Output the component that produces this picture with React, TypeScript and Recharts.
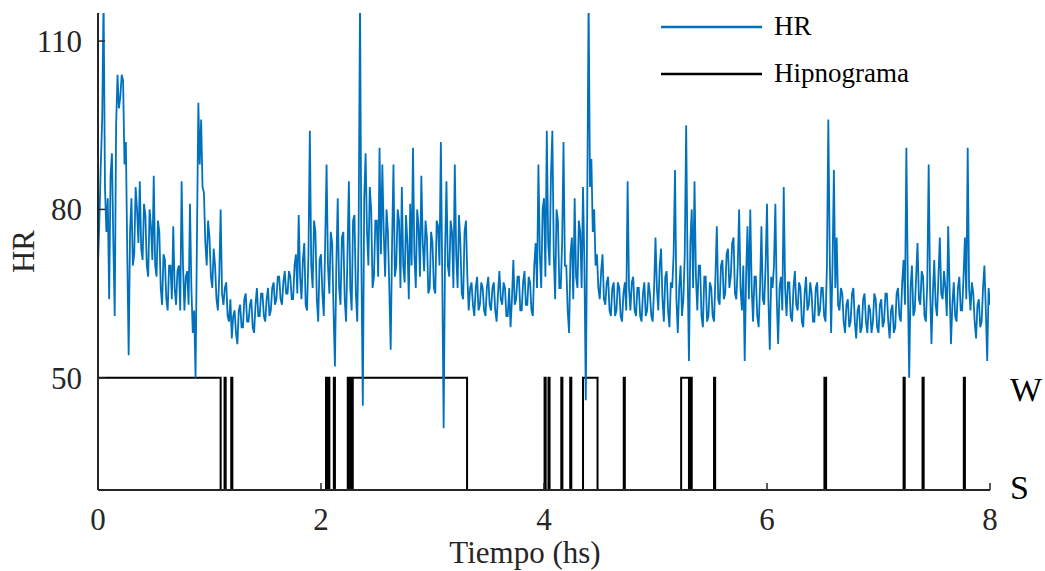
import { LineChart, Line, XAxis, YAxis, Label } from 'recharts';

const HR_STEP = 0.0125;

const hrHours0to2 = [
  70, 78, 88, 96, 118, 84, 76, 82, 64, 86, 90, 74, 61, 95, 104, 98, 100, 104, 103, 88,
  92, 72, 54, 76, 82, 70, 72, 84, 80, 74, 85, 73, 71, 81, 79, 70, 68, 80, 77, 71,
  86, 70, 68, 78, 76, 66, 63, 72, 71, 64, 62, 70, 70, 64, 77, 66, 63, 69, 70, 62,
  85, 70, 62, 68, 69, 63, 81, 66, 58, 62, 50, 75, 99, 88, 96, 84, 83, 74, 70, 78,
  75, 68, 66, 73, 70, 64, 62, 68, 80, 65, 63, 66, 67, 61, 60, 64, 57, 61, 62, 58,
  56, 62, 63, 59, 59, 64, 65, 60, 60, 63, 64, 59, 58, 63, 66, 61, 61, 65, 65, 61,
  60, 64, 66, 61, 62, 66, 67, 63, 64, 68, 68, 64, 63, 67, 69, 65, 65, 69, 68, 64,
  64, 70, 72, 65, 79, 68, 64, 71, 74, 63, 62, 72, 94, 70, 66, 78, 76, 64, 60, 71,
];

const hrHours2to4 = [
  72, 65, 61, 74, 88, 70, 65, 76, 74, 62, 52, 70, 82, 66, 63, 75, 76, 64, 60, 72,
  85, 66, 62, 78, 79, 65, 60, 76, 118, 70, 45, 82, 90, 76, 70, 84, 80, 66, 68, 78,
  78, 68, 91, 72, 88, 76, 68, 80, 76, 66, 55, 74, 88, 68, 70, 80, 78, 66, 84, 70,
  67, 79, 74, 64, 81, 70, 91, 72, 66, 80, 77, 68, 86, 74, 69, 78, 75, 65, 66, 76,
  74, 66, 65, 78, 77, 70, 92, 68, 41, 72, 85, 70, 68, 78, 76, 66, 88, 72, 66, 79,
  74, 65, 64, 76, 78, 68, 62, 66, 67, 63, 61, 66, 68, 62, 63, 67, 66, 62, 61, 66,
  68, 63, 62, 66, 67, 62, 60, 65, 69, 64, 63, 67, 66, 61, 61, 66, 59, 64, 71, 63,
  64, 68, 68, 62, 62, 67, 69, 63, 63, 68, 67, 62, 61, 70, 74, 66, 88, 72, 66, 80,
];

const hrHours4to6 = [
  82, 68, 94, 74, 70, 86, 94, 72, 64, 80, 78, 66, 66, 74, 92, 70, 70, 62, 58, 72,
  75, 64, 82, 68, 66, 78, 76, 66, 84, 70, 46, 80, 118, 84, 89, 76, 80, 70, 72, 66,
  64, 69, 72, 64, 63, 67, 68, 62, 61, 66, 67, 61, 62, 67, 66, 61, 60, 65, 67, 62,
  85, 66, 62, 67, 68, 62, 61, 66, 66, 61, 60, 65, 67, 61, 62, 67, 65, 61, 60, 66,
  75, 66, 62, 70, 73, 64, 60, 68, 69, 62, 59, 67, 66, 72, 87, 64, 58, 66, 70, 61,
  64, 72, 95, 70, 53, 74, 80, 66, 85, 68, 62, 70, 70, 61, 59, 68, 68, 60, 61, 67,
  66, 61, 60, 68, 77, 64, 63, 70, 71, 64, 65, 72, 73, 66, 68, 74, 75, 65, 64, 70,
  80, 66, 62, 70, 53, 68, 77, 64, 80, 66, 60, 68, 68, 61, 59, 66, 77, 64, 63, 70,
];

const hrHours6to8 = [
  81, 64, 55, 68, 66, 70, 81, 64, 56, 66, 68, 62, 84, 66, 61, 67, 67, 61, 60, 66,
  69, 63, 62, 67, 66, 60, 59, 65, 68, 62, 63, 67, 65, 60, 60, 66, 67, 61, 62, 66,
  66, 61, 60, 70, 96, 72, 58, 70, 87, 66, 75, 63, 62, 66, 65, 60, 58, 63, 64, 59,
  60, 65, 66, 60, 57, 62, 63, 58, 59, 64, 65, 60, 58, 63, 62, 58, 60, 65, 64, 59,
  58, 63, 64, 59, 60, 65, 65, 60, 57, 62, 63, 58, 59, 65, 66, 61, 60, 67, 71, 63,
  91, 68, 50, 66, 70, 61, 62, 68, 74, 64, 63, 69, 68, 61, 60, 67, 88, 66, 56, 65,
  71, 63, 61, 68, 75, 65, 64, 69, 66, 61, 77, 66, 56, 63, 67, 61, 60, 66, 68, 62,
  62, 68, 75, 64, 91, 66, 62, 67, 65, 60, 57, 63, 64, 59, 60, 66, 70, 62, 53, 66, 63,
];

// hypnogram: stage changes (hours) and the stage that starts there
const hypnoTimes = [
  0, 1.1, 1.135, 1.145, 1.195, 1.205, 2.045, 2.055, 2.065, 2.075, 2.115, 2.125,
  2.24, 2.25, 2.26, 2.27, 2.285, 3.31, 4.005, 4.015, 4.04, 4.05, 4.155, 4.165,
  4.235, 4.245, 4.35, 4.48, 4.715, 4.725, 5.23, 5.3, 5.315, 5.325, 5.525, 5.535,
  6.515, 6.53, 7.225, 7.235, 7.395, 7.405, 7.765, 7.775, 8,
];
const hypnoStages = [
  'W', 'S', 'W', 'S', 'W', 'S', 'W', 'S', 'W', 'S', 'W', 'S',
  'W', 'S', 'W', 'S', 'W', 'S', 'W', 'S', 'W', 'S', 'W', 'S',
  'W', 'S', 'W', 'S', 'W', 'S', 'W', 'S', 'W', 'S', 'W', 'S',
  'W', 'S', 'W', 'S', 'W', 'S', 'W', 'S', 'S',
];
const STAGE_LEVEL: Record<string, number> = { W: 50, S: 30 };

const xTicks = [0, 2, 4, 6, 8];
const hrTicks = [50, 80, 110];
const stageTicks = [30, 50];

const legendItems = [
  { name: 'HR', color: '#0072BD' },
  { name: 'Hipnograma', color: '#000' },
];

const hrValues = [...hrHours0to2, ...hrHours2to4, ...hrHours4to6, ...hrHours6to8];
const hrData = hrValues.map((v, i) => ({ t: i * HR_STEP, hr: v }));
const hypnoData = hypnoTimes.map((t, i) => ({ t, stage: STAGE_LEVEL[hypnoStages[i]] }));

const FONT = '"Liberation Serif", "DejaVu Serif", serif';
const AXIS = '#262626';
const BLUE = '#0072BD';

const StageTick = (props: any) => {
  const { x, y, payload } = props;
  const isWake = payload.value === 50;
  return (
    <text
      x={x}
      y={y}
      dy={isWake ? 23 : 9}
      textAnchor="start"
      fontFamily={FONT}
      fontSize={34}
      fill="#000"
    >
      {isWake ? 'W' : 'S'}
    </text>
  );
};

// legend drawn as an overlay so it doesn't steal plot height
const LegendBox = () => (
  <div
    style={{
      position: 'absolute',
      left: 661,
      top: 3,
      fontFamily: FONT,
      fontSize: 27,
      color: '#000',
    }}
  >
    {legendItems.map((item) => (
      <div key={item.name} style={{ display: 'flex', alignItems: 'center', height: 47 }}>
        <svg width={101} height={4} style={{ marginRight: 12 }}>
          <line x1={0} y1={2} x2={101} y2={2} stroke={item.color} strokeWidth={2.5} />
        </svg>
        <span>{item.name}</span>
      </div>
    ))}
  </div>
);

export default function App() {
  return (
    <div style={{ position: 'absolute', left: 0, top: 0, width: 1045, height: 571, background: '#fff' }}>
      <LineChart
        width={1045}
        height={571}
        margin={{ top: 13, right: 0, bottom: 41, left: 8 }}
      >
        <XAxis
          dataKey="t"
          type="number"
          domain={[0, 8]}
          ticks={xTicks}
          allowDataOverflow
          height={40}
          axisLine={{ stroke: AXIS, strokeWidth: 2 }}
          tickLine={{ stroke: AXIS, strokeWidth: 1.5 }}
          tickSize={-7}
          tickMargin={25}
          tick={{ fill: AXIS, fontSize: 31, fontFamily: FONT }}
        >
          <Label
            value="Tiempo (hs)"
            position="bottom"
            offset={11}
            dx={-19}
            style={{ fill: AXIS, fontSize: 31, fontFamily: FONT }}
          />
        </XAxis>
        <YAxis
          yAxisId="hr"
          type="number"
          domain={[30, 115]}
          ticks={hrTicks}
          allowDataOverflow
          width={90}
          axisLine={{ stroke: AXIS, strokeWidth: 2 }}
          tickLine={{ stroke: AXIS, strokeWidth: 1.5 }}
          tickSize={-7}
          tickMargin={23}
          tick={{ fill: AXIS, fontSize: 31, fontFamily: FONT }}
        >
          <Label
            value="HR"
            angle={-90}
            position="insideLeft"
            offset={15}
            style={{ fill: AXIS, fontSize: 31, fontFamily: FONT, textAnchor: 'middle' }}
          />
        </YAxis>
        <YAxis
          yAxisId="stage"
          orientation="right"
          type="number"
          domain={[30, 115]}
          ticks={stageTicks}
          allowDataOverflow
          width={55}
          axisLine={false}
          tickLine={false}
          tickSize={0}
          tickMargin={20}
          tick={<StageTick />}
        />
        <Line
          yAxisId="stage"
          data={hypnoData}
          dataKey="stage"
          type="stepAfter"
          stroke="#000"
          strokeWidth={2}
          dot={false}
          isAnimationActive={false}
        />
        <Line
          yAxisId="hr"
          data={hrData}
          dataKey="hr"
          type="linear"
          stroke={BLUE}
          strokeWidth={1.8}
          dot={false}
          isAnimationActive={false}
        />
      </LineChart>
      <LegendBox />
    </div>
  );
}
